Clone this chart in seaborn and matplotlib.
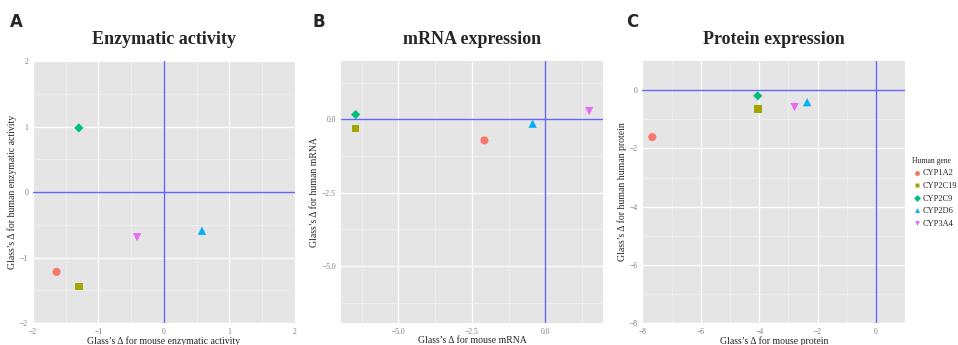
"""Three-panel Glass's delta comparison (mouse vs human) for CYP genes."""

import matplotlib

matplotlib.use("Agg")
import matplotlib.pyplot as plt
import numpy as np
import pandas as pd
import seaborn as sns

# Values, one entry per gene.
genes = ["CYP1A2", "CYP2C19", "CYP2C9", "CYP2D6", "CYP3A4"]

enzyme_mouse = [-1.64, -1.30, -1.30, 0.58, -0.41]
enzyme_human = [-1.22, -1.44, 0.98, -0.59, -0.69]

mrna_mouse = [-2.07, -6.45, -6.45, -0.43, 1.49]
mrna_human = [-0.72, -0.32, 0.16, -0.15, 0.28]

protein_mouse = [-7.66, -4.05, -4.05, -2.36, -2.79]
protein_human = [-1.61, -0.64, -0.19, -0.41, -0.58]

palette = dict(zip(genes, ["#F8766D", "#A3A500", "#00BF7D", "#00B0F6", "#E76BF3"]))
markers = dict(zip(genes, ["o", "s", "D", "^", "v"]))
# per-shape area so the glyphs look the same size, as in ggplot
marker_area = dict(zip(genes, [34, 30, 22, 36, 36]))

panels = [
	("A", "Enzymatic activity", enzyme_mouse, enzyme_human,
	 "Glass\u2019s \u0394 for mouse enzymatic activity",
	 "Glass\u2019s \u0394 for human enzymatic activity",
	 (-2, 2), (-2, 2), [-2, -1, 0, 1, 2], [-2, -1, 0, 1, 2], "{:.0f}"),
	("B", "mRNA expression", mrna_mouse, mrna_human,
	 "Glass\u2019s \u0394 for mouse mRNA",
	 "Glass\u2019s \u0394 for human mRNA",
	 (-6.96, 1.97), (-6.94, 1.98), [-5.0, -2.5, 0.0], [-5.0, -2.5, 0.0], "{:.1f}"),
	("C", "Protein expression", protein_mouse, protein_human,
	 "Glass\u2019s \u0394 for mouse protein",
	 "Glass\u2019s \u0394 for human human protein",
	 (-8, 1), (-8, 1), [-8, -6, -4, -2, 0], [-8, -6, -4, -2, 0], "{:.0f}"),
]

# axes rectangles in figure fractions (left, bottom, width, height)
rects = [
	(0.0344, 0.0638, 0.2735, 0.759),
	(0.3556, 0.0638, 0.2741, 0.759),
	(0.6705, 0.0638, 0.2745, 0.759),
]
letter_x = [0.010, 0.326, 0.654]

sns.set_style("white")
plt.rcParams["font.family"] = ["Liberation Serif", "DejaVu Serif"]

fig = plt.figure(figsize=(9.58, 3.45), dpi=100)

for (letter, title, xs, ys, xlabel, ylabel, xlim, ylim, xt, yt, fmt), rect, lx in zip(
	panels, rects, letter_x
):
	ax = fig.add_axes(rect)
	ax.set_facecolor("#E5E5E5")
	for side in ax.spines.values():
		side.set_visible(False)

	df = pd.DataFrame({"gene": genes, "mouse": xs, "human": ys})
	sns.scatterplot(
		data=df, x="mouse", y="human", hue="gene", style="gene", size="gene",
		palette=palette, markers=markers, sizes=marker_area, edgecolor="none",
		ax=ax, legend=(letter == "C"), zorder=3,
	)
	ax.axvline(0, color="#6464FF", linewidth=1.0, zorder=1.5)
	ax.axhline(0, color="#6464FF", linewidth=1.0, zorder=1.5)

	ax.set_xticks(xt)
	ax.set_yticks(yt)
	step_x = xt[1] - xt[0]
	step_y = yt[1] - yt[0]
	minor_x = np.arange(xt[0] - step_x / 2, xlim[1], step_x)
	minor_y = np.arange(yt[0] - step_y / 2, ylim[1], step_y)
	ax.set_xticks(minor_x[(minor_x > xlim[0]) & (minor_x < xlim[1])], minor=True)
	ax.set_yticks(minor_y[(minor_y > ylim[0]) & (minor_y < ylim[1])], minor=True)
	ax.set_xticklabels([fmt.format(v).replace("-", "\u2212") for v in xt])
	ax.set_yticklabels([fmt.format(v).replace("-", "\u2212") for v in yt])
	ax.set_xlim(*xlim)
	ax.set_ylim(*ylim)
	ax.grid(which="major", color="white", linewidth=0.9)
	ax.grid(which="minor", color="#F2F2F2", linewidth=0.5)
	ax.set_axisbelow(True)
	ax.tick_params(which="major", length=2, width=0.5, color="#7F7F7F",
		labelsize=5.5, labelcolor="#7F7F7F", pad=1.5)
	ax.tick_params(which="minor", length=0)

	ax.set_xlabel(xlabel, fontsize=7, labelpad=0)
	ax.set_ylabel(ylabel, fontsize=7, labelpad=2)
	ax.set_title(title, fontsize=13, fontweight="bold", pad=12)

	fig.text(lx, 0.935, letter, family="DejaVu Sans", fontweight="bold",
		fontsize=12, va="center", ha="left")

	if letter == "C":
		handles, labels = ax.get_legend_handles_labels()
		ax.get_legend().remove()
		for h in handles:
			h.set_markersize(3.5)
		leg = fig.legend(
			handles, labels, title="Human gene", loc="upper left",
			bbox_to_anchor=(0.948, 0.555), frameon=False, fontsize=6,
			title_fontsize=5.5, handletextpad=0.1, labelspacing=0.55,
			borderaxespad=0, handlelength=1.2,
		)
		leg._legend_box.align = "left"

fig.savefig("out.png", dpi=100)
